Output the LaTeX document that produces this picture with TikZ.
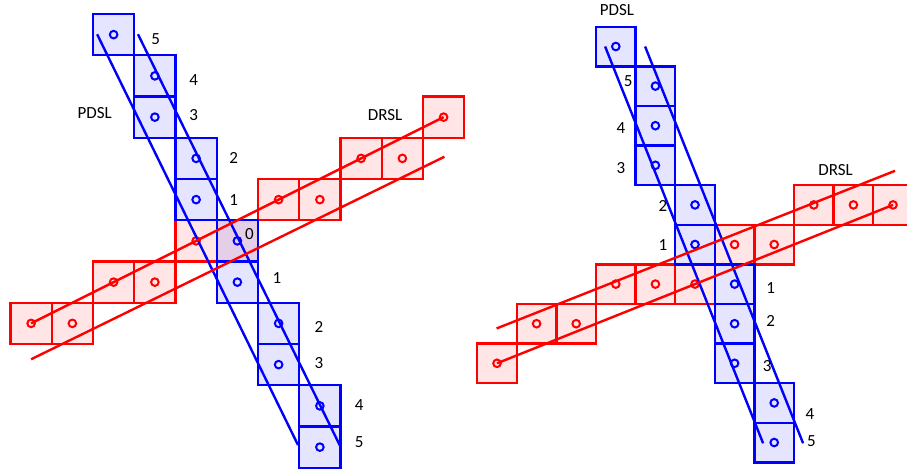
\documentclass[tikz,border=0pt]{standalone}
\usepackage{fontspec}
\setmainfont{Carlito}
\begin{document}
\begin{tikzpicture}[x=1pt,y=-1pt,
        bluecell/.style={draw=blue,fill=blue,fill opacity=0.1,line width=2.4pt},
        redcell/.style={draw=red,fill=red,fill opacity=0.1,line width=2.4pt},
        bluedot/.style={draw=blue,line width=2pt},
        reddot/.style={draw=red,line width=2pt},
        lbl/.style={inner sep=0pt,font=\fontsize{17}{20}\selectfont}]
    \path[use as bounding box,clip](0,0)rectangle(907,472);
    \begin{scope}[shift={(93,14)},x=41.25pt,y=-41.25pt]
        \foreach \x/\y in {8/2,6/3,7/3,4/4,5/4,2/5,3/5,0/6,1/6,-2/7,-1/7}
            {\draw[redcell](\x,\y)rectangle++(1,1);}
        \foreach \x/\y in {0/0,1/1,1/2,2/3,2/4,3/5,3/6,4/7,4/8,5/9,5/10}
            {\draw[bluecell](\x,\y)rectangle++(1,1);}
        \foreach \x/\y in {8/2,6/3,7/3,4/4,5/4,2/5,0/6,1/6,-2/7,-1/7}
            {\draw[reddot](\x+0.5,\y+0.5)circle(3.8pt);}
        \foreach \x/\y in {0/0,1/1,1/2,2/3,2/4,3/5,3/6,4/7,4/8,5/9,5/10}
            {\draw[bluedot](\x+0.5,\y+0.5)circle(3.8pt);}
        \draw[blue,line width=2.4pt](0.1,0.49)--(4.97,10.45)(1.09,0.49)--(5.99,10.47);
        \draw[red,line width=2.4pt](-1.5,7.5)--(8.5,2.5)(-1.5,8.37)--(8.52,3.46);
        \node[lbl](pdslA)at(0.04,2.41){PDSL};
        \node[lbl](drslA)at(7.08,2.45){DRSL};
        \foreach \x/\y/\t [count=\i] in {1.52/0.61/5,2.44/1.61/4,2.44/2.45/3,3.41/3.48/2,3.41/4.50/1,3.79/5.33/0,4.46/6.41/1,5.48/7.58/2,5.48/8.45/3,6.45/9.49/4,6.45/10.39/5}
            {\node[lbl](a\i)at(\x,\y){\t};}
    \end{scope}
    \begin{scope}[shift={(596,26.7)},x=39.6pt,y=-39.6pt]
        \foreach \x/\y in {5/4,6/4,7/4,3/5,4/5,0/6,1/6,2/6,-2/7,-1/7,-3/8}
            {\draw[redcell](\x,\y)rectangle++(1,1);}
        \foreach \x/\y in {0/0,1/1,1/2,1/3,2/4,2/5,3/6,3/7,3/8,4/9,4/10}
            {\draw[bluecell](\x,\y)rectangle++(1,1);}
        \foreach \x/\y in {5/4,6/4,7/4,3/5,4/5,0/6,1/6,2/6,-2/7,-1/7,-3/8}
            {\draw[reddot](\x+0.5,\y+0.5)circle(3.8pt);}
        \foreach \x/\y in {0/0,1/1,1/2,1/3,2/4,2/5,3/6,3/7,3/8,4/9,4/10}
            {\draw[bluedot](\x+0.5,\y+0.5)circle(3.8pt);}
        \draw[blue,line width=2.4pt](0.23,0.5)--(4.22,10.52)(1.24,0.5)--(5.23,10.52);
        \draw[red,line width=2.4pt](-2.51,7.62)--(7.55,3.64)(-2.5,8.5)--(7.5,4.5);
        \node[lbl](pdslB)at(0.53,-0.41){PDSL};
        \node[lbl](drslB)at(6.05,3.62){DRSL};
        \foreach \x/\y/\t [count=\i] in {0.81/1.38/5,0.63/2.57/4,0.63/3.57/3,1.69/4.52/2,1.69/5.51/1,4.41/6.59/1,4.41/7.44/2,4.32/8.58/3,5.40/9.77/4,5.44/10.47/5}
            {\node[lbl](b\i)at(\x,\y){\t};}
    \end{scope}
\end{tikzpicture}
\end{document}
